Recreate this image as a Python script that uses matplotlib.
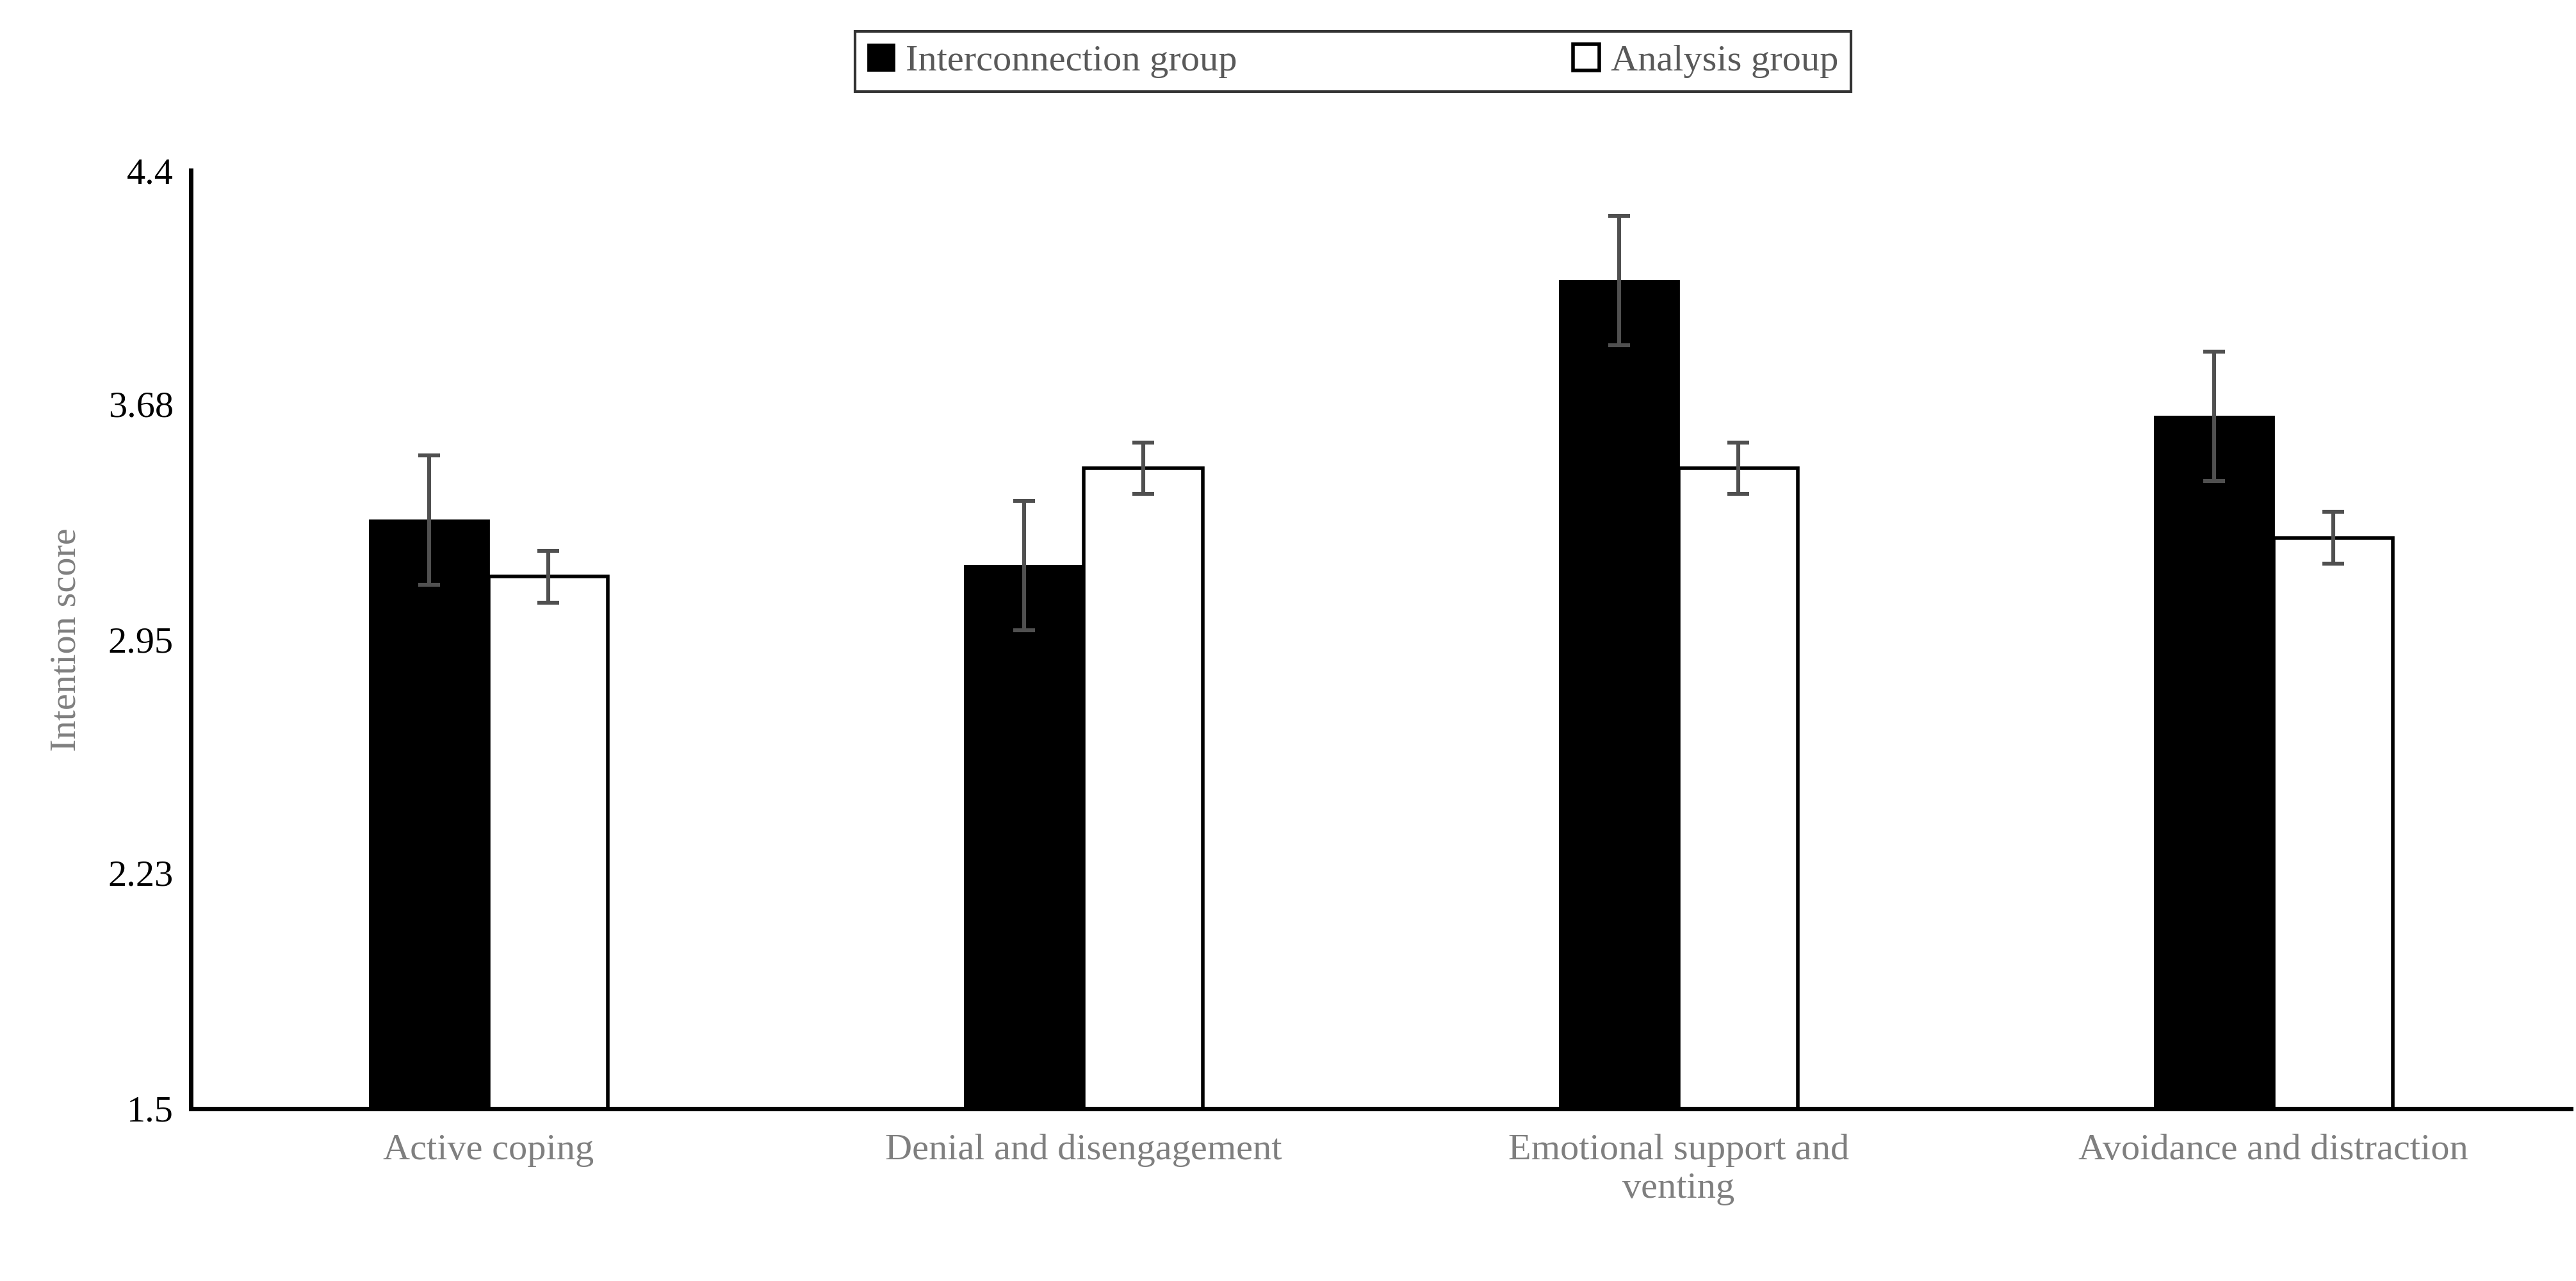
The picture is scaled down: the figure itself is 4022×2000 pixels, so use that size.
import matplotlib.pyplot as plt
import numpy as np

categories = ["Active coping", "Denial and disengagement",
              "Emotional support and\nventing", "Avoidance and distraction"]
inter_vals = [3.32, 3.18, 4.06, 3.64]
inter_err = [0.20, 0.20, 0.20, 0.20]
anal_vals = [3.145, 3.48, 3.48, 3.265]
anal_err = [0.08, 0.08, 0.08, 0.08]
yticks = [1.5, 2.23, 2.95, 3.68, 4.4]

plt.rcParams["font.family"] = "Liberation Serif"

fig = plt.figure(figsize=(20.11, 10), dpi=200)
ax = fig.add_axes([116 / 1563, 1 - 669 / 773, 1444 / 1563, 566 / 773])

x = np.arange(len(categories)) + 0.5
w = 0.2
ekw = dict(ecolor="#505050", elinewidth=2.2, capsize=6, capthick=2.2)
ax.bar(x - w / 2, inter_vals, w, bottom=0, color="black", edgecolor="black",
       yerr=inter_err, error_kw=ekw, label="Interconnection group")
ax.bar(x + w / 2, anal_vals, w, color="white", edgecolor="black", linewidth=2,
       yerr=anal_err, error_kw=ekw, label="Analysis group")

ax.set_xlim(0, len(categories))
ax.set_ylim(1.5, 4.4)
ax.set_yticks(yticks)
ax.set_yticklabels([str(t) for t in yticks], fontsize=21)
ax.set_xticks(x)
ax.set_xticklabels(categories, fontsize=21, color="#7f7f7f")
ax.tick_params(axis="x", length=0, pad=14)
ax.tick_params(axis="y", length=0, pad=10)
ax.set_ylabel("Intention score", fontsize=21, color="#7f7f7f", labelpad=14)
for s in ["top", "right"]:
    ax.spines[s].set_visible(False)
ax.spines["bottom"].set_linewidth(2.5)
ax.spines["left"].set_linewidth(2.5)

leg = fig.legend(loc="center", bbox_to_anchor=(821 / 1563, 1 - 37 / 773), ncol=2,
                 fontsize=21, frameon=True, fancybox=False, edgecolor="black",
                 columnspacing=9, handlelength=0.7, handleheight=0.7,
                 handletextpad=0.3, borderpad=0.35)
leg.get_frame().set_linewidth(1.5)
for t in leg.get_texts():
    t.set_color("#595959")
# widen legend frame to match reference
fig.canvas.draw()
bb = leg.get_frame().get_bbox()
leg.get_frame().set_bounds(242 / 1563 * fig.bbox.width, bb.y0,
                           (1400 - 242) / 1563 * fig.bbox.width, bb.height)

fig.savefig("out.png", dpi=200)
